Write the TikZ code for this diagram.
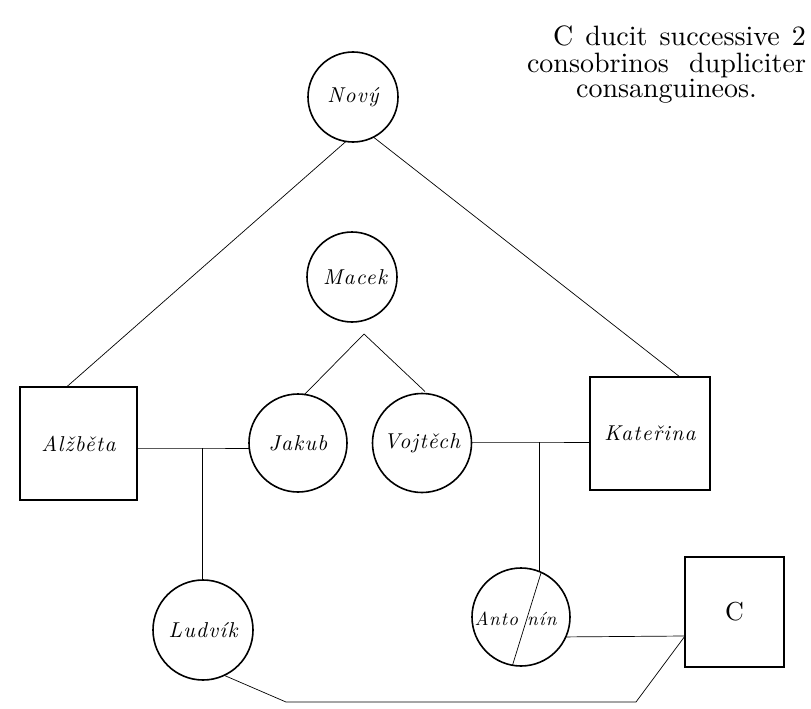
\documentclass[tikz,border=0pt]{standalone}
\usepackage{fontspec}
\usetikzlibrary{calc}
\newfontfamily\namefont[LetterSpace=6,UprightFont=*-italic]{lmroman10}[Extension=.otf]
\newfontfamily\notefont[UprightFont=*-regular]{lmroman10}[Extension=.otf]
\begin{document}
\begin{tikzpicture}[x=1pt,y=-1pt,
  every node/.style={inner sep=0pt,outer sep=0pt},
  pname/.style={font=\namefont\fontsize{21.5}{24}\selectfont},
  person/.style={draw,circle,line width=1.6pt,pname},
  box/.style={draw,rectangle,line width=1.2pt,pname},
  halfname/.style={font=\namefont\fontsize{19}{22}\selectfont},
  link/.style={line width=0.7pt}]
\useasboundingbox (0,0) rectangle (811,709);

% note in the upper right corner
\node[anchor=north east,font=\notefont\fontsize{28}{24}\selectfont] (note) at (806,26)
  {\begin{tabular}{@{}r@{}}
   \makebox[253pt][s]{C ducit successive 2}\\
   \makebox[279pt][s]{consobrinos dupliciter}\\
   \makebox[279pt][c]{consanguineos.}
   \end{tabular}};

% people
\node[person,minimum size=90pt] (novy) at (353,97) {Nový};
\node[person,minimum size=90pt] (macek) at (352,277) {\hspace*{6pt}Macek};
\node[box,minimum width=117pt,minimum height=113pt] (alz) at (78.5,443.5) {Alžběta};
\node[person,minimum size=98pt] (jakub) at (298,443) {Jakub};
\node[person,minimum size=99pt] (vojt) at (422,443) {Vojtěch};
\node[box,minimum width=120pt,minimum height=113pt] (kat) at (650,433.5) {Kateřina};
\node[person,minimum size=100pt] (ludv) at (203,630) {Ludvík};
\node[person,minimum size=98pt] (ant) at (521,617) {};
\node[halfname,anchor=east] (antA) at ($(ant.center)+(-3,2)$) {Anto};
\node[halfname,anchor=west] (antB) at ($(ant.center)+(6,2)$) {nín};
\node[box,minimum width=99pt,minimum height=110pt,font=\notefont\fontsize{26}{26}\selectfont] (c) at (734.5,612) {C};

% split line through Antonín
\draw[link] ($(ant.center)+(20,-44)$) -- (ant.-100);

% descent from Nový
\draw[link] (novy.-99) -- ($(alz.north)+(-12,0)$);
\draw[link] (novy.-63) -- ($(kat.north)+(30,0)$);

% Macek's two sons
\coordinate (apex) at ($(macek.south)+(12,12)$);
\draw[link] ($(jakub.north)+(6,1)$) -- (apex) -- ($(vojt.north)+(3,-2)$);

% marriage lines and children
\coordinate (m1) at (202,448);
\draw[link] (alz.east |- m1) -- (m1) -- (jakub.west |- m1);
\draw[link] (m1) -- (ludv.north -| m1);
\coordinate (m2) at (539,442);
\draw[link] (vojt.east |- m2) -- (m2) -- (kat.west |- m2);
\draw[link] (m2) -- ($(ant.center)+(18,-45.6)$);

% C's two marriages
\coordinate (cj) at ($(c.west)+(0,24)$);
\draw[link] (ant.-24) -- (cj);
\coordinate (b1) at (286,702);
\coordinate (b2) at (636,702);
\draw[link] (ludv.-65) -- (b1) -- (b2) -- (cj);
\end{tikzpicture}
\end{document}
